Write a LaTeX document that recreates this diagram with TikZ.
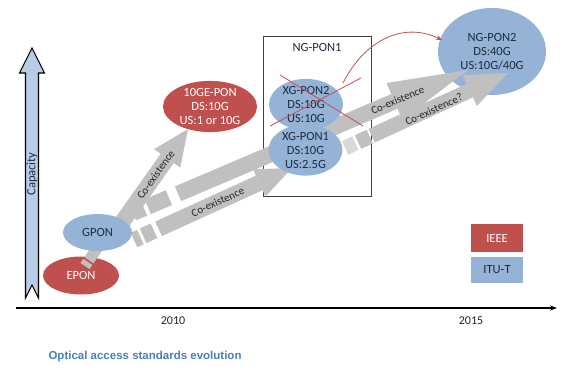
\documentclass[tikz,border=0pt]{standalone}
\usepackage{fontspec}
\setmainfont{Carlito}
\newfontfamily\capfont{Liberation Sans}
\usetikzlibrary{shapes.geometric,arrows.meta,calc}
\definecolor{ieeered}{HTML}{C0504D}
\definecolor{itublue}{HTML}{95B3D7}
\definecolor{caparrow}{HTML}{B9CDE5}
\definecolor{arrgray}{HTML}{C0C0C0}
\definecolor{captionblue}{HTML}{4A7EBB}
\definecolor{txtdark}{HTML}{1F2A3C}
\definecolor{crossred}{HTML}{C0504D}
\begin{document}
\begin{tikzpicture}[x=1pt,y=-1pt,
  ellbase/.style={ellipse, inner sep=0pt, align=center, font=\fontsize{12.5}{14}\selectfont},
  redell/.style={ellbase, fill=ieeered, text=white},
  blueell/.style={ellbase, fill=itublue, text=txtdark},
  grayarrow/.style={draw=arrgray, line width=16pt},
  lbl/.style={font=\fontsize{11}{12}\selectfont, text=black!85, sloped, inner sep=0pt},
  legendbox/.style={rectangle, inner sep=0pt, minimum width=52pt, font=\fontsize{12.5}{14}\selectfont},
  yearlbl/.style={font=\fontsize{12}{14}\selectfont, text=black!85},
  crossline/.style={draw=crossred, line width=0.8pt}
]
\useasboundingbox (0,0) rectangle (564,371);

% capacity arrow
\draw[fill=caparrow, line width=1.1pt, line join=miter]
  (32,48) -- (44.5,73) -- (38.5,73) -- (38.5,298) -- (32,285) -- (25.5,298) -- (25.5,73) -- (19.5,73) -- cycle;
\node[rotate=90, font=\fontsize{12.5}{14}\selectfont, text=txtdark] (cap) at (32,174) {Capacity};

% time axis
\coordinate (axS) at (16,308);
\coordinate (axE) at (557,308);
\draw[line width=1.1pt, -{Stealth[length=7pt,width=5pt]}] (axS) -- (axE);
\node[yearlbl] (y2010) at (173,321) {2010};
\node[yearlbl] (y2015) at (471,321) {2015};

% caption
\node[font=\capfont\bfseries\fontsize{11.5}{13}\selectfont, text=captionblue, anchor=west] (caption) at (45,357) {Optical access standards evolution};

% NG-PON1 box
\node[draw=black!75, line width=0.8pt, minimum width=108pt, minimum height=160pt, inner sep=0pt] (ngbox) at (317,116) {};
\node[font=\fontsize{12.5}{14}\selectfont, text=txtdark] (ngpon1lbl) at (317,47) {NG-PON1};

% NG-PON2
\node[blueell, minimum width=108pt, minimum height=87pt] (ngpon2) at (492,51.5) {NG-PON2\\DS:40G\\US:10G/40G};

% EPON
\node[redell, minimum width=76pt, minimum height=38pt] (epon) at (81,275.5) {EPON};
\coordinate (eS) at (85,266);
\coordinate (eE) at (98,247);
\draw[draw=arrgray, line width=11pt, dash pattern=on 5pt off 2pt on 30pt] (eS) -- (eE);

% gray arrows
\coordinate (aS) at (118,228);
\coordinate (aE) at (188,129);
\coordinate (bS) at (133,213);
\coordinate (bE) at (468,70);
\coordinate (cS) at (134,240);
\coordinate (cE) at (292,168);
\coordinate (dS) at (345,148);
\coordinate (dM) at (358,142);
\coordinate (dE) at (508,73);

\draw[grayarrow, -{Triangle[length=36pt,width=32pt,line width=0pt]}] (aS) -- (aE);
\draw[grayarrow, dash pattern=on 12pt off 4pt on 23pt off 10pt on 3000pt,
  -{Triangle[length=80pt,width=40pt,line width=0pt]}] (bS) -- (bE);
\draw[grayarrow, dash pattern=on 7pt off 3pt on 12pt off 5pt on 3000pt,
  -{Triangle[length=36pt,width=30pt,line width=0pt]}] (cS) -- (cE);
\draw[grayarrow, line width=15pt, dash pattern=on 13pt off 2pt on 3000pt,
  -{Triangle[length=42pt,width=34pt,line width=0pt]}] (dM) -- (dE);

% ellipses on top
\node[blueell, minimum width=69pt, minimum height=37pt] (gpon) at (97.5,232.5) {GPON};
\node[redell, minimum width=94pt, minimum height=45pt] (tengepon) at (210,106.5) {10GE-PON\\DS:10G\\US:1 or 10G};
\node[blueell, minimum width=74pt, minimum height=44pt] (xgpon1) at (305.5,150) {XG-PON1\\DS:10G\\US:2.5G};
\node[blueell, minimum width=74pt, minimum height=43pt] (xgpon2) at (306,104.5) {XG-PON2\\DS:10G\\US:10G};

% first dash of arrow D over XG-PON1
\draw[draw=arrgray, line width=15pt, opacity=0.6] (dS) -- ($(dS)!0.8!(dM)$);

% labels on gray arrows
\path (aS) -- (aE) node[lbl, pos=0.54] {Co-existence};
\path (bS) -- (bE) node[lbl, pos=0.79] {Co-existence};
\path (cS) -- (cE) node[lbl, pos=0.53] {Co-existence};
\path (dS) -- (dE) node[lbl, pos=0.54, yshift=-2pt] {Co-existence?};

% red cross over XG-PON2
\coordinate (x1a) at (270,126);
\coordinate (x1b) at (361,78);
\coordinate (x2a) at (280,75);
\coordinate (x2b) at (363,126);
\draw[crossline] (x1a) -- (x1b);
\draw[crossline] (x2a) -- (x2b);

% red curved arrow
\coordinate (rS) at (343,83);
\coordinate (rE) at (442,40);
\draw[crossline, -{Stealth[length=6pt,width=5pt]}] (rS) .. controls (366,38) and (405,22) .. (rE);

% legend
\node[legendbox, fill=ieeered, text=white, minimum height=28pt] (ieee) at (497,238) {IEEE};
\node[legendbox, fill=itublue, text=txtdark, minimum height=26pt] (itut) at (497,270) {ITU-T};
\end{tikzpicture}
\end{document}
